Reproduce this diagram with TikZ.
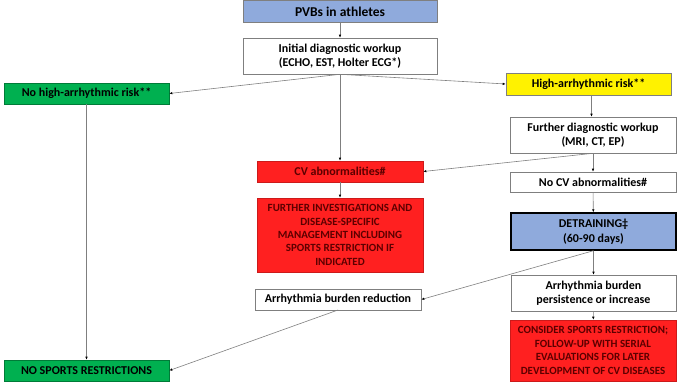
\documentclass[tikz,border=0pt]{standalone}
\usepackage{fontspec}
\setmainfont{Carlito}
\usetikzlibrary{arrows.meta}
\definecolor{pvbblue}{HTML}{8FAADC}
\definecolor{boxgreen}{HTML}{00B050}
\definecolor{boxred}{HTML}{FF2020}
\definecolor{redtext}{HTML}{5C0000}
\definecolor{linegray}{HTML}{7F7F7F}
\tikzset{
  base/.style={draw=linegray, line width=0.6pt, inner sep=1pt, align=center, font=\bfseries\fontsize{12}{14.5}\selectfont},
  whitebox/.style={base, fill=white},
  bluebox/.style={base, fill=pvbblue, draw=linegray},
  detrbox/.style={base, fill=pvbblue, draw=black, line width=1.4pt},
  greenbox/.style={base, fill=boxgreen, draw=boxgreen!70!black},
  yellowbox/.style={base, fill=yellow, draw=linegray},
  redbox/.style={base, fill=boxred, draw=boxred!80!black, text=redtext},
  smallred/.style={redbox, font=\bfseries\fontsize{11}{13.4}\selectfont},
  arr/.style={draw=linegray, line width=0.6pt, -{Latex[length=3pt,width=2.6pt,color=black]}},
}
\begin{document}
\begin{tikzpicture}[x=1pt,y=-1pt]
\useasboundingbox (0,0) rectangle (680,383);
\node[bluebox, minimum width=194pt, minimum height=21.5pt, font=\bfseries\fontsize{13.5}{15}\selectfont] (pvb) at (340,11.5) {PVBs in athletes};
\node[whitebox, minimum width=194pt, minimum height=36pt] (init) at (340,56) {Initial diagnostic workup\\(ECHO, EST, Holter ECG*)};
\node[greenbox, minimum width=165pt, minimum height=21pt] (nohigh) at (86.5,93.5) {No high-arrhythmic risk**};
\node[yellowbox, minimum width=165pt, minimum height=22pt] (high) at (588.5,84) {High-arrhythmic risk**};
\node[whitebox, minimum width=166pt, minimum height=36pt] (further) at (593,135) {Further diagnostic workup\\(MRI, CT, EP)};
\node[redbox, minimum width=166pt, minimum height=21pt] (cvab) at (340,171.5) {CV abnormalities\#};
\node[whitebox, minimum width=166pt, minimum height=20pt] (nocv) at (593,182) {No CV abnormalities\#};
\node[smallred, minimum width=166pt, minimum height=74pt] (fi) at (340,235) {FURTHER INVESTIGATIONS AND\\DISEASE-SPECIFIC\\MANAGEMENT INCLUDING\\SPORTS RESTRICTION IF\\INDICATED};
\node[detrbox, minimum width=165pt, minimum height=37pt] (detr) at (593.5,231.5) {DETRAINING‡\\(60-90 days)};
\node[whitebox, minimum width=166pt, minimum height=21pt] (red) at (338,299.5) {Arrhythmia burden reduction};
\node[whitebox, minimum width=165pt, minimum height=36pt] (pers) at (593.5,293) {Arrhythmia burden\\persistence or increase};
\node[smallred, minimum width=166pt, minimum height=61pt] (cons) at (593,350.5) {CONSIDER SPORTS RESTRICTION;\\FOLLOW-UP WITH SERIAL\\EVALUATIONS FOR LATER\\DEVELOPMENT OF CV DISEASES};
\node[greenbox, minimum width=165pt, minimum height=21pt] (nosp) at (86.5,370.5) {NO SPORTS RESTRICTIONS};
\coordinate (highb) at (591.5,95);
\coordinate (redb) at (338,310);
\draw[arr] (pvb) -- (init);
\draw[arr] (init.south) -- (nohigh.east);
\draw[arr] (init.south) -- (high.west);
\draw[arr] (init.south) -- (cvab.north);
\draw[arr] (nohigh) -- (nosp);
\draw[arr] (highb) -- (highb |- further.north);
\draw[arr] (further.south) -- (cvab.east);
\draw[arr] (further.south) -- (nocv.north);
\draw[arr] (cvab) -- (fi);
\draw[arr] (nocv) -- (detr);
\draw[arr] (detr.south) -- (red.east);
\draw[arr] (detr.south) -- (pers.north);
\draw[arr] (pers) -- (cons);
\draw[arr] (redb) -- (nosp.east);
\end{tikzpicture}
\end{document}
